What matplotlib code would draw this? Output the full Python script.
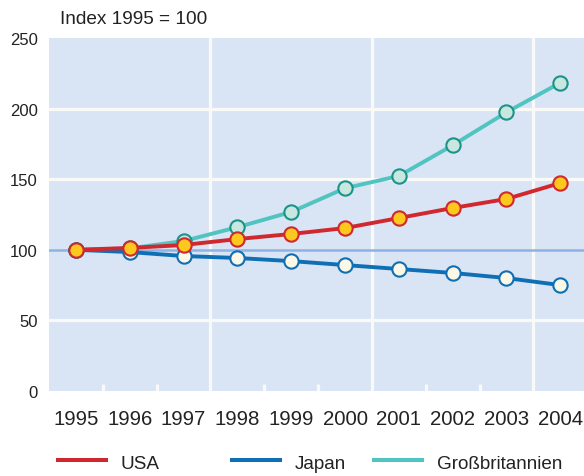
import matplotlib.pyplot as plt
from matplotlib.lines import Line2D

plt.rcParams['font.family'] = ['Liberation Sans', 'DejaVu Sans']

# Data (Index 1995 = 100)
years = [1995, 1996, 1997, 1998, 1999, 2000, 2001, 2002, 2003, 2004]
usa = [100, 101.3, 103.4, 107.6, 111.2, 115.4, 122.5, 129.6, 136.0, 147.3]
japan = [100, 98.4, 95.6, 94.2, 92.0, 89.2, 86.4, 83.6, 80.0, 75.0]
gb = [100, 101.0, 106.2, 116.0, 126.8, 143.6, 152.3, 174.0, 197.4, 218.3]
yticks = [0, 50, 100, 150, 200, 250]

bg = '#d9e4f4'
grid_c = '#f9f9f8'
txt = '#222222'

fig = plt.figure(figsize=(5.84, 4.77), dpi=100)
ax = fig.add_axes([49 / 584, 85 / 477, 1 - 49 / 584, 353 / 477])
ax.set_facecolor(bg)
for s in ax.spines.values():
    s.set_visible(False)

ax.set_xlim(1994.5, 2004.44)
ax.set_ylim(0, 250)

# grid
for v in [50, 150, 200]:
    ax.axhline(v, color=grid_c, lw=2.3, zorder=1)
for v in [1997.5, 2000.5, 2003.5]:
    ax.axvline(v, color=grid_c, lw=2.3, zorder=1)
for v in [1995.5, 1996.5, 1998.5, 1999.5, 2001.5, 2002.5]:
    ax.plot([v, v], [0, 5], color=grid_c, lw=2.3, zorder=1, solid_capstyle='butt')
ax.axhline(100, color='#8db3e2', lw=1.8, zorder=2)

ms = 10.3
ax.plot(years, gb, color='#4fc4c0', lw=2.8, marker='o', ms=ms,
        mfc='#c7e7e0', mec='#1a9488', mew=1.5, zorder=3)
ax.plot(years, japan, color='#0f6fb5', lw=2.8, marker='o', ms=ms,
        mfc='#fbf8e8', mec='#0f6fb5', mew=1.5, zorder=4)
ax.plot(years, usa, color='#d0282e', lw=2.8, marker='o', ms=ms,
        mfc='#fcc81e', mec='#d0282e', mew=1.5, zorder=5)

ax.set_xticks(years)
ax.set_xticklabels([str(y) for y in years], fontsize=14.7, color=txt)
ax.set_yticks(yticks)
ax.set_yticklabels([str(v) for v in yticks], fontsize=12, color=txt)
ax.tick_params(axis='x', length=0, pad=13)
ax.tick_params(axis='y', length=0, pad=8)

fig.text(60 / 584, 1 - 19 / 477, 'Index 1995 = 100', fontsize=13.7,
         va='center', ha='left', color=txt)

# legend
legend_items = [('USA', '#d0282e', 58), ('Japan', '#0f6fb5', 232),
                ('Großbritannien', '#4fc4c0', 374)]
ly = 1 - 461 / 477
for name, c, x0 in legend_items:
    fig.add_artist(Line2D([x0 / 584, (x0 + 48) / 584], [ly, ly], color=c, lw=2.9,
                          transform=fig.transFigure))
    fig.text((x0 + 63) / 584, 1 - 465 / 477, name, fontsize=13.6, va='center',
             ha='left', color=txt)

fig.savefig('out.png', dpi=100)
